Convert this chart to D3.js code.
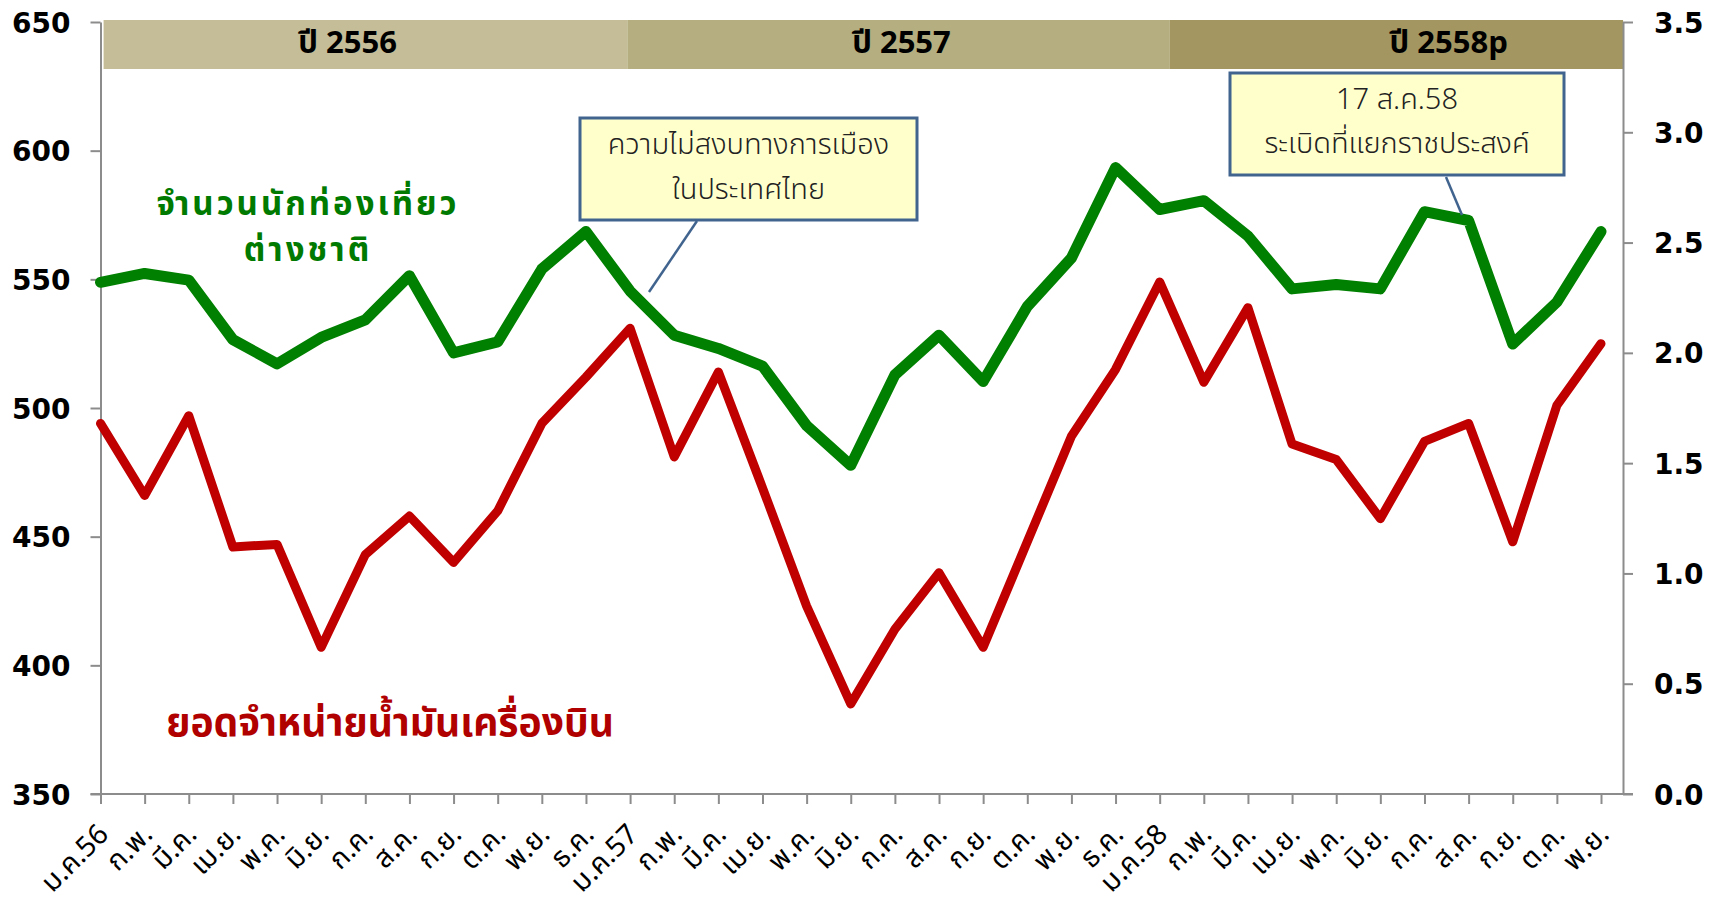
<!DOCTYPE html>
<html>
<head>
<meta charset="utf-8">
<script src="https://cdn.jsdelivr.net/npm/d3@7"></script>
<style>
  body { margin: 0; background: #fff; }
  .num { font-family: "DejaVu Sans", Verdana, sans-serif; font-weight: bold; font-size: 28px; fill: #000; }
  .thai { font-family: Tahoma, "Noto Sans Thai", Loma, Garuda, Waree, "Noto Sans", "DejaVu Sans", sans-serif; }
</style>
</head>
<body>
<script>
// month labels (Thai calendar, 2556-2558)
var months = ["ม.ค.56","ก.พ.","มี.ค.","เม.ย.","พ.ค.","มิ.ย.","ก.ค.","ส.ค.","ก.ย.","ต.ค.","พ.ย.","ธ.ค.",
              "ม.ค.57","ก.พ.","มี.ค.","เม.ย.","พ.ค.","มิ.ย.","ก.ค.","ส.ค.","ก.ย.","ต.ค.","พ.ย.","ธ.ค.",
              "ม.ค.58","ก.พ.","มี.ค.","เม.ย.","พ.ค.","มิ.ย.","ก.ค.","ส.ค.","ก.ย.","ต.ค.","พ.ย."];

// foreign tourists (millions, right axis)
var tourists = [2.32, 2.36, 2.33, 2.06, 1.95, 2.07, 2.15, 2.35, 2.00, 2.05, 2.38, 2.55,
                2.28, 2.08, 2.02, 1.94, 1.67, 1.49, 1.90, 2.08, 1.87, 2.21, 2.43, 2.84,
                2.65, 2.69, 2.53, 2.29, 2.31, 2.29, 2.64, 2.60, 2.04, 2.23, 2.55];

// jet fuel sales (left axis)
var jetFuel = [494, 466, 497, 446, 447, 407, 443, 458, 440, 460, 494, 512,
               531, 481, 514, 469, 423, 385, 414, 436, 407, 448, 489, 515,
               549, 510, 539, 486, 480, 457, 487, 494, 448, 501, 525];

var leftTicks = [350, 400, 450, 500, 550, 600, 650];
var rightTicks = [0, 0.5, 1, 1.5, 2, 2.5, 3, 3.5];

// year bands along the top (edges in month index units)
var bandYears = ["ปี 2556", "ปี 2557", "ปี 2558p"];
var bandEdges = [0.07, 11.95, 24.23, 34.5];
var bandLabelAt = [5.6, 18.15, 30.55];
var bandColors = ["#C4BD97", "#B5AE80", "#A39660"];

var width = 1723, height = 912;
var plot = {left: 100.5, right: 1623, top: 22, bottom: 794};

var svg = d3.select("body").append("svg")
    .attr("width", width)
    .attr("height", height);

var x = d3.scaleLinear().domain([0, months.length - 1]).range([plot.left, 1601]);
var yL = d3.scaleLinear().domain([350, 650]).range([plot.bottom, plot.top]);
var yR = d3.scaleLinear().domain([0, 3.5]).range([plot.bottom, plot.top]);

var axisColor = "#8c8c8c";

// bands
svg.selectAll(".band")
    .data(bandYears)
    .enter()
    .append("rect")
        .attr("x", function(d, i){ return x(bandEdges[i]); })
        .attr("width", function(d, i){ return x(bandEdges[i+1]) - x(bandEdges[i]); })
        .attr("y", 20)
        .attr("height", 49)
        .attr("fill", function(d, i){ return bandColors[i]; });

svg.selectAll(".bandLabel")
    .data(bandYears)
    .enter()
    .append("text")
        .attr("class", "thai")
        .attr("x", function(d, i){ return x(bandLabelAt[i]); })
        .attr("y", 53)
        .attr("text-anchor", "middle")
        .attr("font-weight", "bold")
        .attr("font-size", 31)
        .text(function(d){ return d; });

// left axis
var gl = svg.append("g")
    .attr("transform", "translate(" + plot.left + ",0)")
    .call(d3.axisLeft(yL).tickValues(leftTicks).tickSize(10).tickPadding(20).tickSizeOuter(0));
gl.selectAll("text").attr("class", "num").attr("dy", "0.36em");

// right axis
var gr = svg.append("g")
    .attr("transform", "translate(" + plot.right + ",0)")
    .call(d3.axisRight(yR).tickValues(rightTicks).tickSize(10).tickPadding(21).tickSizeOuter(0)
        .tickFormat(d3.format(".1f")));
gr.selectAll("text").attr("class", "num").attr("dy", "0.36em");

// bottom axis
var gb = svg.append("g")
    .attr("transform", "translate(0," + plot.bottom + ")")
    .call(d3.axisBottom(x).tickValues(d3.range(months.length)).tickSize(10).tickSizeOuter(0)
        .tickFormat(function(i){ return months[i]; }));
gb.select(".domain").remove();
gb.append("line")
    .attr("x1", plot.left - 10).attr("x2", plot.right + 10)
    .attr("stroke", axisColor).attr("stroke-width", 2);
gb.selectAll("text")
    .attr("class", "thai")
    .attr("font-size", 28)
    .attr("fill", "#000")
    .attr("y", 0).attr("dy", 0)
    .attr("text-anchor", "end")
    .attr("transform", "translate(9,42) rotate(-45)");

svg.selectAll(".domain, .tick line").attr("stroke", axisColor).attr("stroke-width", 2);

// lines
var lineR = d3.line()
    .x(function(d, i){ return x(i); })
    .y(function(d){ return yR(d); });
var lineL = d3.line()
    .x(function(d, i){ return x(i); })
    .y(function(d){ return yL(d); });

svg.append("path")
    .datum(jetFuel)
    .attr("fill", "none")
    .attr("stroke", "#C00000")
    .attr("stroke-width", 9)
    .attr("stroke-linejoin", "round")
    .attr("stroke-linecap", "round")
    .attr("d", lineL);

svg.append("path")
    .datum(tourists)
    .attr("fill", "none")
    .attr("stroke", "#008000")
    .attr("stroke-width", 11)
    .attr("stroke-linejoin", "round")
    .attr("stroke-linecap", "round")
    .attr("d", lineR);

// series labels
var greenLines = ["จำนวนนักท่องเที่ยว", "ต่างชาติ"];
svg.selectAll(".greenLabel")
    .data(greenLines)
    .enter()
    .append("text")
        .attr("class", "thai")
        .attr("x", 308)
        .attr("y", function(d, i){ return 215 + i * 46; })
        .attr("text-anchor", "middle")
        .attr("font-weight", "bold")
        .attr("font-size", 33)
        .attr("letter-spacing", 3)
        .attr("fill", "#007A00")
        .text(function(d){ return d; });

svg.append("text")
    .attr("class", "thai")
    .attr("x", 390).attr("y", 736)
    .attr("text-anchor", "middle")
    .attr("font-weight", "bold")
    .attr("font-size", 39)
    .attr("fill", "#B00000")
    .text("ยอดจำหน่ายน้ำมันเครื่องบิน");

// callouts
var callouts = [
    {lines: ["ความไม่สงบทางการเมือง", "ในประเทศไทย"], box: [580, 118, 337, 102], ptr: [697, 221, 649, 292], base: [154, 199]},
    {lines: ["17 ส.ค.58", "ระเบิดที่แยกราชประสงค์"], box: [1230, 73, 334, 102], ptr: [1446, 177, 1462, 215], base: [109, 153]}
];

callouts.forEach(function(c){
    svg.append("line")
        .attr("x1", c.ptr[0]).attr("y1", c.ptr[1])
        .attr("x2", c.ptr[2]).attr("y2", c.ptr[3])
        .attr("stroke", "#41648F").attr("stroke-width", 2.5);
    svg.append("rect")
        .attr("x", c.box[0]).attr("y", c.box[1])
        .attr("width", c.box[2]).attr("height", c.box[3])
        .attr("fill", "#FFFFCC")
        .attr("stroke", "#41648F").attr("stroke-width", 3);
    c.lines.forEach(function(t, i){
        svg.append("text")
            .attr("class", "thai")
            .attr("x", c.box[0] + c.box[2] / 2)
            .attr("y", c.base[i])
            .attr("text-anchor", "middle")
            .attr("font-size", 29)
            .attr("font-weight", 300)
            .attr("fill", "#222")
            .text(t);
    });
});
</script>
</body>
</html>
